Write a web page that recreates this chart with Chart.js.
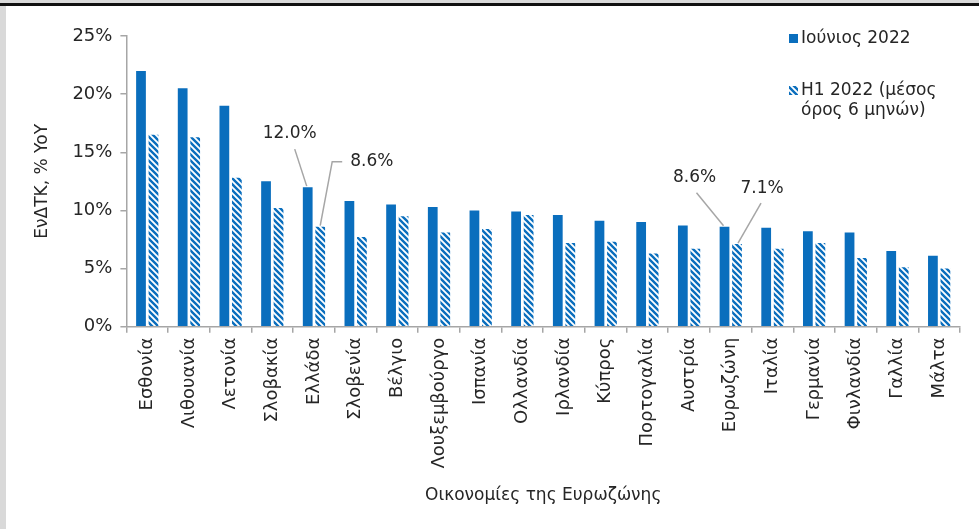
<!DOCTYPE html>
<html>
<head>
<meta charset="utf-8">
<script src="https://cdn.jsdelivr.net/npm/chart.js@4"></script>
<style>
  html, body { margin: 0; padding: 0; background: #fff; }
  #wrap { position: relative; width: 979px; height: 529px; overflow: hidden; }
  #topband { position: absolute; left: 0; top: 0; width: 979px; height: 3px; background: #d9d9d9; }
  #topline { position: absolute; left: 0; top: 3px; width: 979px; height: 3px; background: #111; }
  #leftband { position: absolute; left: 0; top: 6px; width: 6px; height: 523px; background: #d9d9d9; }
  #box { position: absolute; left: 6px; top: 6px; width: 973px; height: 523px; }
</style>
</head>
<body>
<div id="wrap">
  <div id="topband"></div>
  <div id="topline"></div>
  <div id="leftband"></div>
  <div id="box"><canvas id="inflChart"></canvas></div>
</div>
<script>
// ΕνΔΤΚ ανά χώρα της Ευρωζώνης: Ιούνιος 2022 και μέσος όρος Η1 2022

const countries = ['Εσθονία', 'Λιθουανία', 'Λετονία', 'Σλοβακία', 'Ελλάδα', 'Σλοβενία', 'Βέλγιο',
  'Λουξεμβούργο', 'Ισπανία', 'Ολλανδία', 'Ιρλανδία', 'Κύπρος', 'Πορτογαλία', 'Αυστρία',
  'Ευρωζώνη', 'Ιταλία', 'Γερμανία', 'Φινλανδία', 'Γαλλία', 'Μάλτα'];
const june2022 = [22.0, 20.5, 19.0, 12.5, 12.0, 10.8, 10.5, 10.3, 10.0, 9.9, 9.6, 9.1, 9.0, 8.7, 8.6, 8.5, 8.2, 8.1, 6.5, 6.1];
const h1avg2022 = [16.5, 16.3, 12.8, 10.2, 8.6, 7.7, 9.5, 8.1, 8.4, 9.6, 7.2, 7.3, 6.3, 6.7, 7.1, 6.7, 7.2, 5.9, 5.1, 5.0];
const yTicks = [0, 5, 10, 15, 20, 25];
const callouts = [
  { idx: 4, ds: 0, text: '12.0%' },
  { idx: 4, ds: 1, text: '8.6%' },
  { idx: 14, ds: 0, text: '8.6%' },
  { idx: 14, ds: 1, text: '7.1%' }
];

const BLUE = '#0a6ebd';
const FONT = '"DejaVu Sans", sans-serif';

function makeHatch() {
  const c = document.createElement('canvas');
  c.width = 6; c.height = 6;
  const g = c.getContext('2d');
  g.fillStyle = '#fff';
  g.fillRect(0, 0, 6, 6);
  g.strokeStyle = BLUE;
  g.lineWidth = 2.4;
  g.beginPath();
  g.moveTo(-3, -3); g.lineTo(9, 9);
  g.moveTo(-3, 3); g.lineTo(3, 9);
  g.moveTo(3, -3); g.lineTo(9, 3);
  g.stroke();
  return g.createPattern(c, 'repeat');
}
const hatch = makeHatch();

const extras = {
  id: 'extras',
  afterDatasetsDraw(chart) {
    const ctx = chart.ctx;
    ctx.save();
    ctx.font = '17px ' + FONT;
    ctx.fillStyle = '#262626';
    ctx.strokeStyle = '#a6a6a6';
    ctx.lineWidth = 1.5;
    ctx.textBaseline = 'middle';
    callouts.forEach(c => {
      const bar = chart.getDatasetMeta(c.ds).data[c.idx];
      const bx = bar.x, by = bar.y;
      ctx.beginPath();
      if (c.idx === 4 && c.ds === 0) {
        ctx.moveTo(bx - 1, by - 1); ctx.lineTo(bx - 13, by - 38);
        ctx.stroke();
        ctx.textAlign = 'center';
        ctx.fillText(c.text, bx - 18, by - 54);
      } else if (c.idx === 4 && c.ds === 1) {
        ctx.moveTo(bx, by - 1); ctx.lineTo(bx + 12, by - 65); ctx.lineTo(bx + 22, by - 65);
        ctx.stroke();
        ctx.textAlign = 'left';
        ctx.fillText(c.text, bx + 30, by - 65);
      } else if (c.ds === 0) {
        ctx.moveTo(bx - 1, by - 1); ctx.lineTo(bx - 28, by - 34);
        ctx.stroke();
        ctx.textAlign = 'center';
        ctx.fillText(c.text, bx - 30, by - 49);
      } else {
        ctx.moveTo(bx + 1, by - 1); ctx.lineTo(bx + 24, by - 41);
        ctx.stroke();
        ctx.textAlign = 'center';
        ctx.fillText(c.text, bx + 25, by - 56);
      }
    });
    // legend
    const lx = chart.chartArea.right - 171;
    const ly = chart.chartArea.top;
    ctx.textAlign = 'left';
    ctx.fillStyle = BLUE;
    ctx.fillRect(lx, ly - 2, 9, 9);
    ctx.fillStyle = hatch;
    ctx.fillRect(lx, ly + 50, 9, 9);
    ctx.fillStyle = '#262626';
    ctx.fillText('Ιούνιος 2022', lx + 12, ly + 3);
    ctx.fillText('Η1 2022 (μέσος', lx + 12, ly + 55);
    ctx.fillText('όρος 6 μηνών)', lx + 12, ly + 75);
    ctx.restore();
  }
};

new Chart(document.getElementById('inflChart'), {
  type: 'bar',
  data: {
    labels: countries,
    datasets: [{
      label: 'Ιούνιος 2022',
      data: june2022,
      backgroundColor: BLUE,
      categoryPercentage: 0.6,
      barPercentage: 0.78
    }, {
      label: 'Η1 2022 (μέσος όρος 6 μηνών)',
      data: h1avg2022,
      backgroundColor: hatch,
      categoryPercentage: 0.6,
      barPercentage: 0.78
    }]
  },
  options: {
    responsive: true,
    maintainAspectRatio: false,
    animation: false,
    layout: { padding: { top: 30, right: 19, left: 22, bottom: 19 } },
    plugins: {
      legend: { display: false },
      tooltip: { enabled: false }
    },
    scales: {
      x: {
        grid: { display: true, drawOnChartArea: false, offset: true, color: '#a6a6a6', tickLength: 6, lineWidth: 1.5 },
        border: { color: '#a6a6a6', width: 1.5 },
        ticks: { color: '#262626', font: { family: FONT, size: 18 }, maxRotation: 90, minRotation: 90, padding: 5, autoSkip: false },
        title: { display: true, text: 'Οικονομίες της Ευρωζώνης', color: '#262626', font: { family: FONT, size: 17 }, padding: { top: 12 } }
      },
      y: {
        min: 0,
        max: 25,
        afterBuildTicks(axis) { axis.ticks = yTicks.map(v => ({ value: v })); },
        grid: { display: true, drawOnChartArea: false, color: '#a6a6a6', tickLength: 6, lineWidth: 1.5 },
        border: { color: '#a6a6a6', width: 1.5 },
        ticks: { color: '#262626', font: { family: FONT, size: 18 }, padding: 8, callback: v => v + '%' },
        title: { display: true, text: 'ΕνΔΤΚ, % YoY', color: '#262626', font: { family: FONT, size: 17 }, padding: { bottom: 12 } }
      }
    }
  },
  plugins: [extras]
});
</script>
</body>
</html>
